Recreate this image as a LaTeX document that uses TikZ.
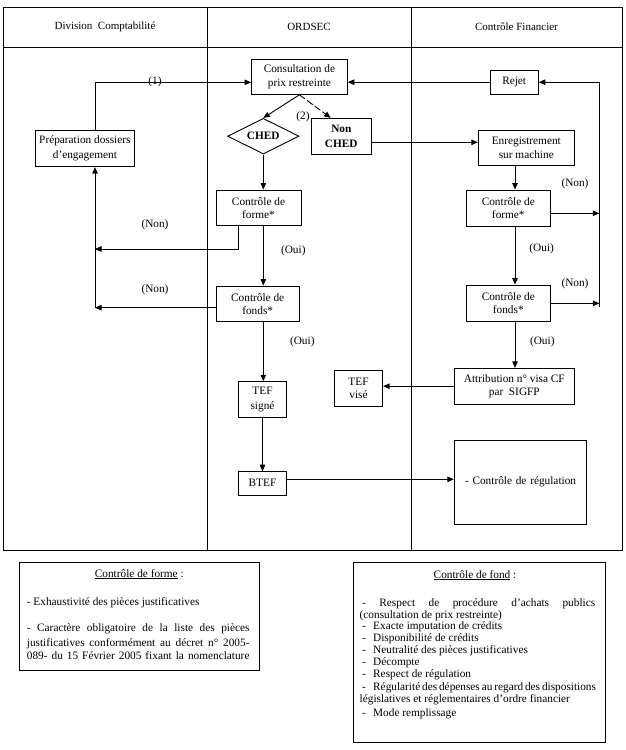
\documentclass[tikz,border=0pt]{standalone}
\usepackage{fontspec}
\setmainfont{Liberation Serif}
\usetikzlibrary{arrows.meta,shapes.geometric}
\begin{document}
\begin{tikzpicture}[x=1pt,y=-1pt,
  every node/.style={font=\fontsize{11.3}{13.3}\selectfont, inner sep=0pt},
  box/.style={draw, line width=0.9pt, align=center},
  arr/.style={line width=0.9pt, -{Triangle[length=6.5pt,width=5.5pt]}},
  frame/.style={line width=1pt},
  hdr/.style={font=\fontsize{11}{13}\selectfont},
  leg/.style={anchor=base west},
]
\useasboundingbox (0,0) rectangle (625,750);
\fill[white] (0,0) rectangle (625,750);

% swimlane frame
\draw[frame] (3,7) rectangle (622,550);
\draw[frame] (3,47) -- (622,47);
\draw[frame] (207,7) -- (207,550);
\draw[frame] (411,7) -- (411,550);
\node[hdr] (h1) at (105,27) {Division\ \ Comptabilité};
\node[hdr] (h2) at (309,27) {ORDSEC};
\node[hdr] (h3) at (516.5,27) {Contrôle Financier};

% boxes
\node[box, minimum width=95.8, minimum height=35.3, font=\fontsize{11.3}{14}\selectfont] (cons) at (299.4,76.7) {Consultation de\\prix restreinte};
\node[box, minimum width=98.3, minimum height=36.7, font=\fontsize{11.3}{15.5}\selectfont] (prep) at (84.9,148.3) {Préparation dossiers\\d’engagement};
\node[draw, line width=0.9pt, shape=diamond, aspect=2, minimum width=71.3, minimum height=35.7, font=\bfseries\fontsize{11.3}{13.3}\selectfont] (ched) at (263.3,136.2) {CHED};
\node[box, minimum width=59.5, minimum height=36, font=\bfseries\fontsize{11.3}{14.3}\selectfont] (nonched) at (341.3,136.3) {Non\\CHED};
\node[box, minimum width=48.3, minimum height=24.3] (rejet) at (514.2,82.2) {Rejet};
\node[box, minimum width=96, minimum height=35, font=\fontsize{11.3}{14.3}\selectfont] (enreg) at (526.3,147.5) {Enregistrement\\sur machine};
\node[box, minimum width=85, minimum height=35.7] (formeL) at (258.5,207.8) {Contrôle de\\forme*};
\node[box, minimum width=83.3, minimum height=35.7] (fondsL) at (257.7,303.8) {Contrôle de\\fonds*};
\node[box, minimum width=84.7, minimum height=36] (formeR) at (508.3,208) {Contrôle de\\forme*};
\node[box, minimum width=84.7, minimum height=36.7] (fondsR) at (508.3,303.3) {Contrôle de\\fonds*};
\node[box, minimum width=48.4, minimum height=35.6, font=\fontsize{11.3}{15}\selectfont] (tefs) at (262.5,399.5) {TEF\\signé};
\node[box, minimum width=48.4, minimum height=23.3] (btef) at (262.5,483.3) {BTEF};
\node[box, minimum width=48.4, minimum height=36.7] (tefv) at (358.5,388.3) {TEF\\visé};
\node[box, minimum width=120, minimum height=35.7] (attr) at (514.3,386.2) {Attribution n° visa CF\\par\ \ SIGFP};
\node[box, minimum height=83.6, text width=111, inner xsep=10.7, align=left] (regul) at (520.5,482.5) {\raisebox{3pt}{\mbox{- Contrôle de régulation}}};

% helper coordinates
\coordinate (lx) at (95,0);
\coordinate (rx) at (599.3,0);
\coordinate (cx) at (515,0);
\coordinate (mx) at (263.3,0);
\coordinate (y1) at (0,82.3);
\coordinate (y2) at (0,142.3);
\coordinate (y3) at (0,213.3);
\coordinate (y4) at (0,307.7);
\coordinate (y5) at (0,479.3);
\coordinate (nx) at (238.7,249);
\coordinate (rb) at (599.3,306.7);

% connectors
\draw[arr] (lx |- prep.north) |- (y1 -| cons.west);
\draw[arr] (cons.south) -- (ched.north);
\draw[arr, dash pattern=on 7pt off 2.5pt] (cons.south) -- ([xshift=-10.6pt]nonched.north);
\draw[arr] (nonched.east |- y2) -- (enreg.west |- y2);
\draw[arr] (rejet.west) -- (rejet.west -| cons.east);
\draw[arr] (rb) |- (rejet.east);
\draw[arr] (formeR.east |- y3) -- (rx |- y3);
\draw[arr] (fondsR.east) -- (rx |- fondsR.east);
\draw[arr] (cx |- enreg.south) -- (cx |- formeR.north);
\draw[arr] (cx |- formeR.south) -- (cx |- fondsR.north);
\draw[arr] (cx |- fondsR.south) -- (cx |- attr.north);
\draw[arr] (attr.west) -- (attr.west -| tefv.east);
\draw[arr] (ched.south) -- (ched.south |- formeL.north);
\draw[arr] (mx |- formeL.south) -- (mx |- fondsL.north);
\draw[arr] (mx |- fondsL.south) -- (mx |- tefs.north);
\draw[arr] (tefs.south) -- (btef.north);
\draw[arr] (nx |- formeL.south) |- (lx |- nx);
\draw[arr] (fondsL.west |- y4) -- (lx |- y4);
\draw[arr] (lx |- y4) -- (lx |- prep.south);
\draw[arr] (btef.east |- y5) -- (regul.west |- y5);

% labels
\node (l1) at (155,82) {(1)};
\node (l2) at (303,117) {(2)};
\node (nL1) at (155,225) {(Non)};
\node (nL2) at (155,289.3) {(Non)};
\node (oL1) at (293.3,251) {(Oui)};
\node (oL2) at (302.3,341.7) {(Oui)};
\node (nR1) at (575,184) {(Non)};
\node (nR2) at (575,283.3) {(Non)};
\node (oR1) at (541.7,249) {(Oui)};
\node (oR2) at (542.3,341.7) {(Oui)};

% legend: controle de forme
\node[draw, line width=0.9pt, anchor=north west, minimum width=240, minimum height=107.7] (legF) at (19.3,562.3) {};
\node[anchor=base] (lfT) at (139.3,577) {\underline{Contrôle de forme} :};
\node[leg] (lf1) at (26.7,605.2) {- Exhaustivité des pièces justificatives};
\node[leg] (lf2) at (26.7,631.2) {\makebox[222.6pt][s]{- Caractère obligatoire de la liste des pièces}};
\node[leg] (lf3) at (26.7,646.2) {\makebox[222.6pt][s]{justificatives conformément au décret n° 2005-}};
\node[leg] (lf4) at (26.7,659.5) {\makebox[222.6pt][s]{089- du 15 Février 2005 fixant la nomenclature}};

% legend: controle de fond
\node[draw, line width=0.9pt, anchor=north west, minimum width=252.5, minimum height=179.7] (legD) at (352.5,562.3) {};
\node[anchor=base] (ldT) at (475,578) {\underline{Contrôle de fond} :};
\node[leg] (ld1) at (362,606.5) {\makebox[233pt][s]{- Respect de procédure d’achats publics}};
\node[leg] (ld2) at (359.5,618) {(consultation de prix restreinte)};
\node[leg] (ld3) at (362,629.5) {\makebox[11pt][l]{-}Exacte imputation de crédits};
\node[leg] (ld4) at (362,641.5) {\makebox[11pt][l]{-}Disponibilité de crédits};
\node[leg] (ld5) at (362,653.5) {\makebox[11pt][l]{-}Neutralité des pièces justificatives};
\node[leg] (ld6) at (362,665.5) {\makebox[11pt][l]{-}Décompte};
\node[leg] (ld7) at (362,677.5) {\makebox[11pt][l]{-}Respect de régulation};
\node[leg] (ld8) at (362,690.5) {\makebox[233pt][s]{\makebox[11pt][l]{-}Régularité des dépenses au regard des dispositions}};
\node[leg] (ld9) at (359.5,702.5) {législatives et réglementaires d’ordre financier};
\node[leg] (ld10) at (362,716.5) {\makebox[11pt][l]{-}Mode remplissage};
\end{tikzpicture}
\end{document}
